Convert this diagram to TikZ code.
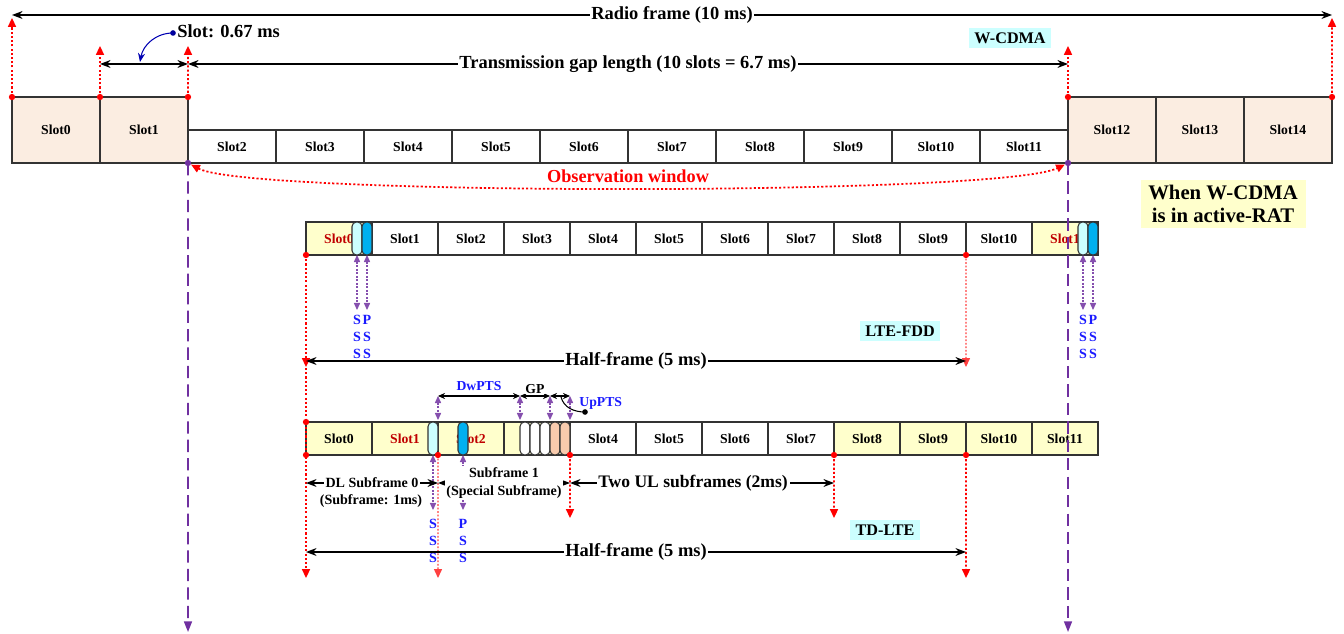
\documentclass[tikz,border=0pt]{standalone}
\usepackage{fontspec}
\setmainfont{Liberation Serif}
\usepackage{tikz}
\usetikzlibrary{arrows.meta}
\usepackage{xcolor}
\definecolor{wpeach}{HTML}{FBEDE1}
\definecolor{lyellow}{HTML}{FFFFCC}
\definecolor{tagcyan}{HTML}{CCFFFF}
\definecolor{capdark}{HTML}{00B0F0}
\definecolor{cappeach}{HTML}{F8CBAD}
\definecolor{slotred}{HTML}{C00000}
\definecolor{ssblue}{HTML}{1A1AFF}
\definecolor{vpurple}{HTML}{7030A0}
\definecolor{framegray}{HTML}{333333}

\begin{document}
\begin{tikzpicture}[x=0.02cm, y=-0.02cm,
    slotbox/.style={draw=framegray, line width=1pt, inner sep=0pt, outer sep=0pt,
        font=\fontsize{7.8}{9}\selectfont\bfseries},
    wtall/.style={slotbox, fill=wpeach, minimum width=1.76cm, minimum height=1.32cm, anchor=south west},
    wshort/.style={slotbox, fill=white, minimum width=1.76cm, minimum height=0.66cm, anchor=south west},
    lslot/.style={slotbox, minimum width=1.32cm, minimum height=0.66cm, anchor=south west},
    capsule/.style={draw=framegray, line width=0.6pt, rounded corners=0.09cm,
        minimum width=0.2cm, minimum height=0.66cm, inner sep=0pt, outer sep=0pt},
    dimarrow/.style={line width=0.8pt, {Stealth[length=6pt,width=4.5pt]}-{Stealth[length=6pt,width=4.5pt]}},
    smallarrow/.style={line width=0.6pt, {Stealth[length=4pt,width=3.5pt]}-{Stealth[length=4pt,width=3.5pt]}},
    rdotarrow/.style={red, line width=1pt, dash pattern=on 1.2pt off 1.2pt, -{Triangle[length=5pt,width=4.5pt]}},
    rthin/.style={red!75, line width=0.6pt, dash pattern=on 1pt off 1pt, -{Triangle[length=5pt,width=4.5pt]}},
    pdash/.style={vpurple, line width=0.9pt, dash pattern=on 7pt off 3.5pt, -{Triangle[length=6pt,width=4.5pt]}},
    pdot/.style={vpurple!85, line width=0.6pt, dash pattern=on 1pt off 1pt,
        {Triangle[length=4pt,width=3.5pt]}-{Triangle[length=4pt,width=3.5pt]}},
    dimlabel/.style={fill=white, inner sep=1pt, font=\fontsize{10.5}{12}\selectfont\bfseries},
    smalllabel/.style={fill=white, inner sep=1pt, align=center, font=\fontsize{8}{10.2}\selectfont\bfseries},
    tag/.style={fill=tagcyan, inner xsep=3pt, inner ysep=2.5pt, font=\fontsize{9.2}{11}\selectfont\bfseries},
    sss/.style={text=ssblue, align=center, inner sep=0pt, font=\fontsize{8}{9.64}\selectfont\bfseries},
    bluelbl/.style={text=ssblue, inner sep=0pt, font=\fontsize{7.8}{9}\selectfont\bfseries}]
    \useasboundingbox (0,0) rectangle (1344,634);

    % W-CDMA frame
    \foreach \i/\x in {0/12,1/100,12/1068,13/1156,14/1244}
        \node[wtall] (w\i) at (\x,163) {Slot\i};
    \foreach \i in {2,...,11}
        \node[wshort] (w\i) at ({188+88*(\i-2)},163) {Slot\i};
    \node[tag] (wtag) at (1010,38) {W-CDMA};

    \coordinate (rfL) at (12,15);
    \coordinate (rfR) at (1332,15);
    \coordinate (gpA) at (100,64);
    \coordinate (gpB) at (188,64);
    \coordinate (gpC) at (1068,64);
    \draw[dimarrow] (rfL) -- node[dimlabel] (rflbl) {Radio frame (10 ms)} (rfR);
    \draw[dimarrow] (gpA) -- (gpB);
    \draw[dimarrow] (gpB) -- node[dimlabel] (gaplbl) {Transmission gap length (10 slots = 6.7 ms)} (gpC);

    \draw[rdotarrow] (w0.north west) -- (12,18);
    \draw[rdotarrow] (w1.north west) -- (100,46);
    \draw[rdotarrow] (w1.north east) -- (188,46);
    \draw[rdotarrow] (w12.north west) -- (1068,46);
    \draw[rdotarrow] (w14.north east) -- (1332,18);
    \foreach \p in {w0.north west, w1.north west, w1.north east, w12.north west, w14.north east}
        \fill[red] (\p) circle (1.8pt);

    % slot duration callout
    \node[anchor=west, inner sep=0pt, font=\fontsize{10.5}{12}\selectfont\bfseries] (slotlbl) at (177,31) {Slot: 0.67 ms};
    \coordinate (sdot) at (173,33);
    \fill[blue!60!black] (sdot) circle (1.6pt);
    \draw[blue!70!black, line width=0.6pt, -{Stealth[length=5pt,width=4pt]}] (sdot) to[out=180,in=80] (140,62);

    % observation window
    \draw[red, line width=1pt, dash pattern=on 1.2pt off 1.2pt, shorten <=2pt, shorten >=2pt,
        {Triangle[length=5pt,width=4.5pt]}-{Triangle[length=5pt,width=4.5pt]}]
        (w1.south east) .. controls (250,196) and (1000,196) .. (w12.south west);
    \node[text=red, font=\fontsize{10.4}{12}\selectfont\bfseries] (obslbl) at (628,176) {Observation window};

    \node[fill=lyellow, align=center, minimum width=3.3cm, minimum height=0.96cm, inner sep=0pt,
        font=\fontsize{11.8}{13}\selectfont\bfseries] (note) at (1223,204) {When W-CDMA\\is in active-RAT};

    % LTE-FDD frame
    \node[lslot, fill=lyellow, text=slotred] (f0) at (306,255) {Slot0};
    \foreach \i in {1,...,10}
        \node[lslot, fill=white] (f\i) at ({306+66*\i},255) {Slot\i};
    \node[lslot, fill=lyellow, text=slotred] (f11) at (1032,255) {Slot1};
    \node[capsule, fill=tagcyan] (fcA) at (357,238.5) {};
    \node[capsule, fill=capdark] (fcB) at (367,238.5) {};
    \node[capsule, fill=tagcyan] (fcC) at (1083,238.5) {};
    \node[capsule, fill=capdark] (fcD) at (1093,238.5) {};
    \draw[pdot] (fcA.south) -- (357,310);
    \draw[pdot] (fcB.south) -- (367,310);
    \draw[pdot] (fcC.south) -- (1083,310);
    \draw[pdot] (fcD.south) -- (1093,310);
    \node[sss] (fsA) at (357,337) {S\\S\\S};
    \node[sss] (fsB) at (367,337) {P\\S\\S};
    \node[sss] (fsC) at (1083,337) {S\\S\\S};
    \node[sss] (fsD) at (1093,337) {P\\S\\S};

    \coordinate (fhL) at (306,361);
    \coordinate (fhR) at (966,361);
    \draw[rdotarrow] (f0.south west) -- (306,367);
    \draw[rthin] (f9.south east) -- (966,367);
    \fill[red] (f0.south west) circle (1.8pt);
    \fill[red] (f9.south east) circle (1.8pt);
    \draw[dimarrow] (fhL) -- node[dimlabel] (fhlbl) {Half-frame (5 ms)} (fhR);
    \node[tag] (ftag) at (900,331) {LTE-FDD};

    % TD-LTE frame
    \node[lslot, fill=lyellow] (t0) at (306,455) {Slot0};
    \node[lslot, fill=lyellow, text=slotred] (t1) at (372,455) {Slot1};
    \node[lslot, fill=lyellow, text=slotred] (t2) at (438,455) {Slot2};
    \node[lslot, fill=lyellow] (t3) at (504,455) {};
    \foreach \i in {4,...,7}
        \node[lslot, fill=white] (t\i) at ({306+66*\i},455) {Slot\i};
    \foreach \i in {8,...,11}
        \node[lslot, fill=lyellow] (t\i) at ({306+66*\i},455) {Slot\i};
    \node[capsule, fill=tagcyan] (tcA) at (433,438.5) {};
    \node[capsule, fill=capdark] (tcB) at (463,438.5) {};
    \foreach \x/\c [count=\k] in {525/white,535/white,545/white,555/cappeach,565/cappeach}
        \node[capsule, fill=\c] (gc\k) at (\x,438.5) {};

    % special subframe fields
    \foreach \x [count=\k] in {438,520,550,570} {
        \coordinate (up\k) at (\x,396);
        \draw[pdot] (up\k) -- (\x,420);
    }
    \draw[smallarrow] (up1) -- node[bluelbl, above=3pt] (dwlbl) {DwPTS} (up2);
    \draw[smallarrow] (up2) -- node[above=1pt, inner sep=0pt, fill=white, font=\fontsize{7.8}{9}\selectfont\bfseries] (gplbl) {GP} (up3);
    \draw[smallarrow] (up3) -- (up4);
    \node[bluelbl, anchor=west] (uplbl) at (579,403) {UpPTS};
    \coordinate (updot) at (585,412);
    \fill (updot) circle (1.6pt);
    \draw[line width=0.6pt] (updot) to[out=180,in=-75] (561,397);

    \draw[pdot] (tcA.south) -- (433,510);
    \draw[pdot] (tcB.south) -- (463,510);
    \node[sss] (tsA) at (433,541) {S\\S\\S};
    \node[sss] (tsB) at (463,541) {P\\S\\S};

    % red markers below TD-LTE
    \coordinate (tdtop) at (306,368);
    \draw[rdotarrow] (tdtop) -- (306,578);
    \draw[rthin] (t1.south east) -- (438,578);
    \draw[rdotarrow] (t3.south east) -- (570,518);
    \draw[rdotarrow] (t7.south east) -- (834,518);
    \draw[rdotarrow] (t9.south east) -- (966,578);
    \foreach \p in {t0.north west, t0.south west, t1.south east, t3.south east, t7.south east, t9.south east}
        \fill[red] (\p) circle (1.8pt);

    \coordinate (dlL) at (306,483);
    \coordinate (dlR) at (438,483);
    \coordinate (spR) at (570,483);
    \coordinate (ulR) at (834,483);
    \draw[dimarrow] (dlL) -- node[smalllabel] (dllbl) {DL Subframe 0} (dlR);
    \node[smalllabel, fill=none] (dlsub) at (371,501) {(Subframe: 1ms)};
    \draw[dimarrow] (dlR) -- node[smalllabel] (splbl) {Subframe 1\\(Special Subframe)} (spR);
    \draw[dimarrow] (spR) -- node[dimlabel, pos=0.466, font=\fontsize{10}{12}\selectfont\bfseries] (ullbl) {Two UL subframes (2ms)} (ulR);

    \coordinate (thL) at (306,552);
    \coordinate (thR) at (966,552);
    \draw[dimarrow] (thL) -- node[dimlabel] (thlbl) {Half-frame (5 ms)} (thR);
    \node[tag] (ttag) at (885,530) {TD-LTE};

    % observation window edges
    \draw[pdash] (w1.south east) -- (188,632);
    \draw[pdash] (w12.south west) -- (1068,632);
    \fill[vpurple] (w1.south east) circle (1.8pt);
    \fill[vpurple] (w12.south west) circle (1.8pt);
\end{tikzpicture}
\end{document}
